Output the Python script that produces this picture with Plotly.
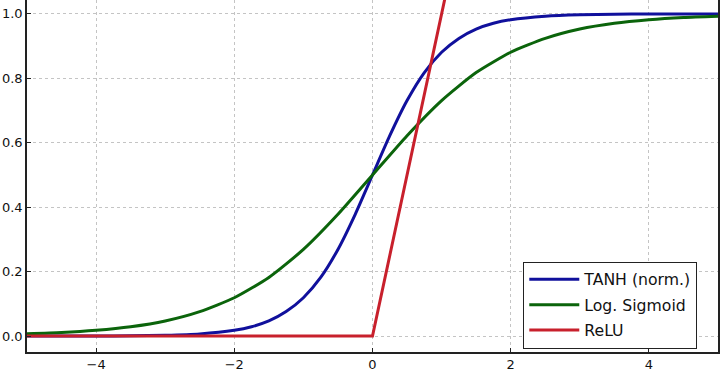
import plotly.graph_objects as go

# Values
x_tanh = [-5.0, -4.5, -4.0, -3.5, -3.0, -2.5, -2.0, -1.75, -1.5, -1.25, -1.0, -0.75, -0.5, -0.25,
          0.0, 0.25, 0.5, 0.75, 1.0, 1.25, 1.5, 1.75, 2.0, 2.5, 3.0, 3.5, 4.0, 4.5, 5.0]
y_tanh = [0.0000, 0.0001, 0.0003, 0.0009, 0.0025, 0.0067, 0.018, 0.029, 0.047, 0.076, 0.119, 0.182,
          0.269, 0.378, 0.500, 0.622, 0.731, 0.818, 0.881, 0.924, 0.953, 0.971, 0.982, 0.993,
          0.9975, 0.9991, 0.9997, 0.9999, 1.0]

x_sig = [-5.0, -4.5, -4.0, -3.5, -3.0, -2.5, -2.0, -1.5, -1.0, -0.5, 0.0, 0.5, 1.0, 1.5, 2.0,
         2.5, 3.0, 3.5, 4.0, 4.5, 5.0]
y_sig = [0.007, 0.011, 0.018, 0.029, 0.047, 0.076, 0.119, 0.182, 0.269, 0.378, 0.500, 0.622,
         0.731, 0.818, 0.881, 0.924, 0.953, 0.971, 0.982, 0.989, 0.993]

x_relu = [-5.0, 0.0, 1.2]
y_relu = [0.0, 0.0, 1.2]

series_names = ["TANH (norm.)", "Log. Sigmoid", "ReLU"]
x_ticks = [-4, -2, 0, 2, 4]
y_ticks = [0.0, 0.2, 0.4, 0.6, 0.8, 1.0]

colors = ["#10109c", "#0b640b", "#c8202c"]

fig = go.Figure()
for i, (xs, ys) in enumerate([(x_tanh, y_tanh), (x_sig, y_sig), (x_relu, y_relu)]):
    fig.add_trace(go.Scatter(
        x=xs, y=ys, mode="lines", name=series_names[i], legendgroup=str(i),
        line=dict(color=colors[i], width=3, shape="spline" if i < 2 else "linear", smoothing=0.6),
    ))

font = "DejaVu Sans, sans-serif"
fig.update_layout(
    width=720, height=372,
    margin=dict(l=27, r=1, t=0, b=18),
    paper_bgcolor="white", plot_bgcolor="white",
    font=dict(family=font, size=13, color="#111"),
    showlegend=True,
    legend=dict(
        x=(524 - 27) / 692, y=(354 - 263) / 354, xanchor="left", yanchor="top",
        bgcolor="white", bordercolor="#222", borderwidth=1,
        font=dict(family=font, size=15.7, color="#111"),
        tracegroupgap=2, itemwidth=50,
    ),
    xaxis=dict(
        range=[-5, 5], tickvals=x_ticks, ticks="inside", ticklen=4, tickcolor="#222",
        showline=True, linecolor="#222", linewidth=1.5, mirror=False,
        showgrid=True, gridcolor="#c4c4c4", griddash="dot", gridwidth=1,
        zeroline=False, tickfont=dict(size=13),
    ),
    yaxis=dict(
        range=[-0.0494, 1.0432], tickvals=y_ticks, ticktext=["0.0", "0.2", "0.4", "0.6", "0.8", "1.0"],
        ticks="inside", ticklen=4, tickcolor="#222",
        showline=True, linecolor="#222", linewidth=1.5, mirror=True,
        showgrid=True, gridcolor="#c4c4c4", griddash="dot", gridwidth=1,
        zeroline=False, tickfont=dict(size=13),
    ),
)

fig.write_html("out.html")
